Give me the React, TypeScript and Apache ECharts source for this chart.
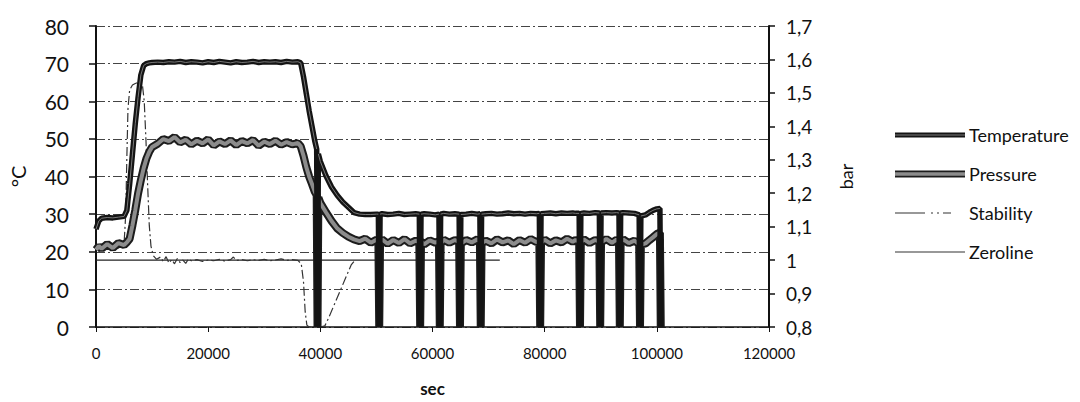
import React, { useEffect, useRef } from "react";
import * as echarts from "echarts";

// ---- data ----
const timeSec = [
  0, 500, 1000, 2000, 3000, 4000, 5000, 5500, 6000, 6500, 7000, 7500, 8000, 8500, 9000, 9500, 10000,
  11000, 12000, 13000, 14000, 15000, 16000, 17000, 18000, 19000, 20000, 21000, 22000, 23000,
  24000, 25000, 26000, 27000, 28000, 29000, 30000, 31000, 32000, 33000, 34000, 35000, 36000,
  36500, 37000, 37500, 38000, 38500, 39000, 39350, 39500, 39650, 40000, 41000, 42000, 43000,
  44000, 45000, 46000, 47000, 48000, 49000, 50000,
  50350, 50500, 50650, 51000, 52000, 53000, 54000, 55000, 56000, 57000,
  57650, 57800, 57950, 58500, 59500, 60500, 61150, 61300, 61450, 62000,
  63000, 64000, 64750, 64900, 65050, 66000, 67000, 68000, 68450, 68600,
  68750, 69500, 70500, 71500, 72500, 73500, 74500, 75500, 76500, 77500,
  78500, 79050, 79200, 79350, 80000, 81000, 82000, 83000, 84000, 85000,
  85500, 86150, 86300, 86450, 87000, 88000, 89000, 89750, 89900, 90050,
  91000, 92000, 92800, 93250, 93400, 93550, 94000, 95000, 96000, 96850,
  97000, 97150, 98000, 98700, 99300, 100000, 100550, 100700,
];

const temperatureC = [
  26.0, 28.2, 28.9, 29.1, 29.0, 29.2, 29.4, 31.0, 38.0, 46.0, 54.0, 61.0, 67.0, 69.5, 70.0, 70.2, 70.3,
  70.4, 70.3, 70.5, 70.4, 70.6, 70.3, 70.5, 70.4, 70.2, 70.5, 70.3, 70.6, 70.4,
  70.2, 70.5, 70.3, 70.4, 70.6, 70.3, 70.5, 70.4, 70.5, 70.3, 70.6, 70.4, 70.5,
  70.2, 66.5, 62.0, 57.5, 53.5, 49.5, 47.3, 0, 46.0, 44.0, 40.2, 37.2, 35.0,
  33.2, 31.8, 30.4, 30.0, 29.9, 29.9, 30.0,
  30.0, 0, 30.0, 30.1, 29.9, 30.0, 30.2, 29.9, 30.0, 30.1,
  30.0, 0, 30.0, 30.1, 30.0, 29.8, 30.0, 0, 30.0, 30.2,
  30.0, 30.1, 30.0, 0, 29.9, 30.0, 30.2, 30.0, 30.1, 0,
  30.0, 30.1, 30.2, 30.0, 30.1, 30.3, 30.1, 30.2, 30.0, 30.2,
  30.1, 30.2, 0, 30.1, 30.2, 30.3, 30.1, 30.3, 30.2, 30.3,
  30.2, 30.2, 0, 30.2, 30.3, 30.2, 30.4, 30.3, 0, 30.3,
  30.4, 30.3, 30.4, 30.3, 0, 30.3, 30.4, 30.3, 30.2, 29.8,
  0, 29.5, 29.8, 30.5, 31.0, 31.4, 31.5, 0,
];

const pressureBar = [
  1.031, 1.042, 1.034, 1.048, 1.036, 1.051, 1.045, 1.053, 1.064, 1.104, 1.149, 1.199, 1.239, 1.275, 1.304, 1.324, 1.338,
  1.348, 1.362, 1.356, 1.368, 1.352, 1.360, 1.346, 1.357, 1.349, 1.361, 1.343, 1.355, 1.347,
  1.358, 1.344, 1.356, 1.349, 1.359, 1.342, 1.354, 1.347, 1.357, 1.345, 1.353, 1.346, 1.350,
  1.340, 1.312, 1.278, 1.250, 1.228, 1.205, 1.194, 0.8, 1.187, 1.171, 1.143, 1.117, 1.095,
  1.081, 1.070, 1.062, 1.057, 1.064, 1.052, 1.061,
  1.058, 0.8, 1.055, 1.062, 1.049, 1.060, 1.051, 1.063, 1.050, 1.058,
  1.054, 0.8, 1.056, 1.047, 1.059, 1.052, 1.057, 0.8, 1.050, 1.061,
  1.052, 1.060, 1.055, 0.8, 1.049, 1.060, 1.053, 1.062, 1.056, 0.8,
  1.051, 1.058, 1.050, 1.062, 1.053, 1.059, 1.048, 1.060, 1.052, 1.063,
  1.054, 1.058, 0.8, 1.052, 1.061, 1.050, 1.059, 1.053, 1.064, 1.055,
  1.060, 1.056, 0.8, 1.054, 1.062, 1.051, 1.060, 1.056, 0.8, 1.053,
  1.063, 1.052, 1.061, 1.057, 0.8, 1.054, 1.062, 1.051, 1.058, 1.048,
  0.8, 1.046, 1.050, 1.060, 1.068, 1.078, 1.082, 0.8,
];

const stabilitySec = [
  0, 1000, 2000, 3000, 4000, 5000, 5300, 5500, 5700, 6000, 6500, 7000, 7500, 8000,
  8300, 8600, 8900, 9200, 9500, 9800, 10200, 10800, 11500, 12000, 12500, 13000, 13500,
  14000, 14500, 15000, 15500, 16000, 16500, 17000, 18000, 19000, 20000, 21000, 22000,
  23000, 24000, 24500, 25000, 26000, 27000, 28000, 29000, 30000, 31000, 32000, 33000,
  34000, 35000, 36000, 36600, 37000, 37300, 37600, 38000, 39000, 40000, 40800, 41500,
  42500, 43500, 44500, 45500, 46300,
];
const stabilityC = [
  21.5, 20.8, 21.2, 20.6, 21.0, 22.0, 30.0, 45.0, 58.0, 63.0, 64.3, 64.7, 65.0, 65.0,
  64.0, 60.0, 50.0, 38.0, 27.0, 21.5, 19.0, 18.0, 18.6, 17.4, 18.7, 17.0, 17.9,
  16.8, 18.2, 17.1, 17.8, 16.9, 18.1, 17.6, 17.9, 17.4, 17.8, 17.6, 18.0,
  17.5, 17.9, 18.6, 17.7, 17.9, 17.6, 17.9, 17.7, 18.0, 17.6, 17.8, 18.1,
  17.7, 17.9, 17.7, 16.8, 12.0, 4.0, 0.5, 0, 0, 0, 0.3, 2.5,
  6.0, 9.5, 13.0, 16.5, 18.0,
];

const zerolineSec = [0, 72000];
const zerolineBar = [1, 1];

const xTicks = [0, 20000, 40000, 60000, 80000, 100000, 120000];
const leftTicks = [0, 10, 20, 30, 40, 50, 60, 70, 80];
const rightTickLabels = ["0,8", "0,9", "1", "1,1", "1,2", "1,3", "1,4", "1,5", "1,6", "1,7"];
const legendNames = ["Temperature", "Pressure", "Stability", "Zeroline"];

const FONT = 'Lato, "Open Sans", sans-serif';

export default function App() {
  const ref = useRef<HTMLDivElement>(null);

  useEffect(() => {
    const chart = echarts.init(ref.current!, null, { renderer: "svg" });
    const pair = (xs: number[], ys: number[]) => xs.map((x, i) => [x, ys[i]]);
    const gap = (xs: number[], ys: number[], low: number) =>
      xs.map((x, i) => [x, ys[i] <= low ? "-" : ys[i]]);

    const xStep = xTicks[1] - xTicks[0];
    const lStep = leftTicks[1] - leftTicks[0];

    // legend drawn as graphic so its line styles match the reference
    const legX1 = 895;
    const legX2 = 965;
    const legY = [135, 174, 213, 252];
    const legStrokes: any[][] = [
      [
        { stroke: "#141414", lineWidth: 5 },
        { stroke: "#7a7a7a", lineWidth: 1 },
      ],
      [
        { stroke: "#1c1c1c", lineWidth: 7 },
        { stroke: "#8c8c8c", lineWidth: 3.5 },
      ],
      [{ stroke: "#333", lineWidth: 1.2, lineDash: [30, 6, 2, 4, 2, 4, 8, 14] }],
      [{ stroke: "#333", lineWidth: 1.2 }],
    ];
    const graphic: any[] = [];
    legendNames.forEach((name, i) => {
      legStrokes[i].forEach((st) => {
        graphic.push({
          type: "line",
          silent: true,
          shape: { x1: legX1, y1: legY[i], x2: legX2, y2: legY[i] },
          style: { ...st, fill: null },
        });
      });
      graphic.push({
        type: "text",
        x: 969,
        y: legY[i],
        style: {
          text: name,
          fontFamily: FONT,
          fontSize: 18,
          fill: "#111",
          verticalAlign: "middle",
          align: "left",
        },
      });
    });

    chart.setOption({
      animation: false,
      backgroundColor: "#ffffff",
      textStyle: { fontFamily: FONT, color: "#111" },
      grid: { left: 92, right: 311, top: 26, bottom: 66 },
      graphic,
      xAxis: {
        type: "value",
        min: xTicks[0],
        max: xTicks[xTicks.length - 1],
        interval: xStep,
        name: "sec",
        nameLocation: "middle",
        nameGap: 53,
        nameTextStyle: { fontFamily: FONT, fontSize: 17, fontWeight: "bold", color: "#111" },
        axisLine: { show: true, onZero: false, lineStyle: { color: "#111", width: 1.5 } },
        axisTick: { show: true, length: 5, lineStyle: { color: "#111" } },
        axisLabel: {
          fontFamily: FONT,
          fontSize: 15,
          color: "#111",
          margin: 18,
          formatter: (v: number) => String(v),
        },
        splitLine: { show: false },
      },
      yAxis: [
        {
          type: "value",
          position: "left",
          min: leftTicks[0],
          max: leftTicks[leftTicks.length - 1],
          interval: lStep,
          name: "°C",
          nameLocation: "middle",
          nameRotate: 90,
          nameGap: 68,
          nameTextStyle: { fontFamily: FONT, fontSize: 20, color: "#111" },
          axisLine: { show: true, lineStyle: { color: "#111", width: 2 } },
          axisTick: { show: true, length: 7, lineStyle: { color: "#111", width: 1.5 } },
          axisLabel: { fontFamily: FONT, fontSize: 21, color: "#111", margin: 27 },
          splitLine: {
            show: true,
            lineStyle: { color: "#444", width: 1, type: [9, 3, 2, 3] },
          },
        },
        {
          type: "value",
          position: "right",
          min: 0.8,
          max: 1.7,
          interval: 0.1,
          name: "bar",
          nameLocation: "middle",
          nameRotate: 90,
          nameGap: 68,
          nameTextStyle: { fontFamily: FONT, fontSize: 18, color: "#111" },
          axisLine: { show: true, lineStyle: { color: "#111", width: 2 } },
          axisTick: { show: true, length: 6, lineStyle: { color: "#111", width: 1.5 } },
          axisLabel: {
            fontFamily: FONT,
            fontSize: 19,
            color: "#111",
            margin: 17,
            formatter: (v: number) => rightTickLabels[Math.round((v - 0.8) * 10)] ?? "",
          },
          splitLine: { show: false },
        },
      ],
      series: [
        {
          name: "Zeroline",
          type: "line",
          yAxisIndex: 1,
          symbol: "none",
          data: pair(zerolineSec, zerolineBar),
          lineStyle: { color: "#222", width: 1.2 },
        },
        {
          name: "Stability",
          type: "line",
          yAxisIndex: 0,
          symbol: "none",
          data: pair(stabilitySec, stabilityC),
          lineStyle: { color: "#333", width: 1.2, type: [9, 3, 2, 3] },
        },
        {
          name: "Pressure",
          type: "line",
          yAxisIndex: 1,
          symbol: "none",
          data: pair(timeSec, pressureBar),
          lineStyle: { color: "#1c1c1c", width: 8 },
        },
        {
          name: "Pressure",
          type: "line",
          yAxisIndex: 1,
          symbol: "none",
          connectNulls: false,
          data: gap(timeSec, pressureBar, 0.8),
          lineStyle: { color: "#8c8c8c", width: 4 },
        },
        {
          name: "Temperature",
          type: "line",
          yAxisIndex: 0,
          symbol: "none",
          data: pair(timeSec, temperatureC),
          lineStyle: { color: "#141414", width: 5.5 },
        },
        {
          name: "Temperature",
          type: "line",
          yAxisIndex: 0,
          symbol: "none",
          connectNulls: false,
          data: gap(timeSec, temperatureC, 0),
          lineStyle: { color: "#7a7a7a", width: 1 },
        },
      ],
    });

    return () => chart.dispose();
  }, []);

  return (
    <div
      ref={ref}
      style={{ position: "absolute", left: 0, top: 0, width: 1080, height: 402, background: "#fff" }}
    />
  );
}
